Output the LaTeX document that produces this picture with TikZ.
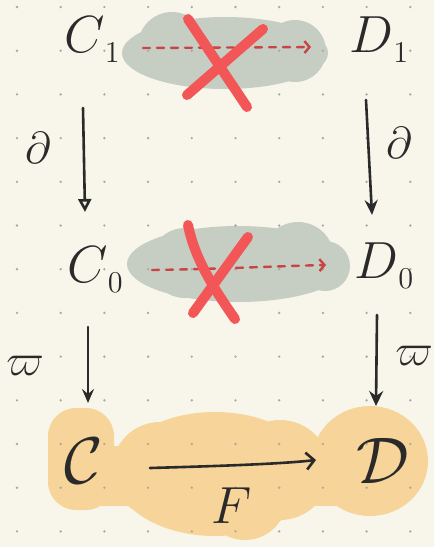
\documentclass[tikz,border=0pt]{standalone}
\usepackage{amsmath,amssymb}
\usetikzlibrary{arrows.meta}
\definecolor{bg}{HTML}{F8F6EA}
\definecolor{ink}{HTML}{2A2A2A}
\definecolor{cloudgray}{HTML}{C6CDC2}
\definecolor{cloudorange}{HTML}{F7D59A}
\definecolor{dashred}{HTML}{C94545}
\definecolor{crossred}{HTML}{F25656}
\definecolor{dotgray}{HTML}{A9A9A1}
\newcommand{\lowsub}[1]{\raisebox{-5pt}{\Large$#1$}}
\tikzset{
  lbl/.style={font=\Huge, text=ink, inner sep=0pt, scale=2.1},
  biglbl/.style={font=\Huge, text=ink, inner sep=0pt, scale=2.65},
  smalllbl/.style={font=\Huge, text=ink, inner sep=0pt, scale=1.8},
  mapline/.style={draw=ink, line width=2.6pt, line cap=round},
  nullmap/.style={draw=dashred, line width=2.4pt, dash pattern=on 7pt off 7pt, line cap=round},
  cross/.style={draw=crossred, line width=10pt, line cap=round},
}
\begin{document}
\begin{tikzpicture}[x=1pt,y=-1pt]
\fill[bg] (0,0) rectangle (434,547);
\useasboundingbox (0,0) rectangle (434,547);
\clip (0,0) rectangle (434,547);
% clouds
\fill[cloudgray] (225,53) ellipse [x radius=103, y radius=36]
  (172,46) circle (34) (240,52) circle (32) (295,51) circle (31);
\fill[cloudgray] (238,264) ellipse [x radius=111, y radius=38]
  (185,263) circle (35) (235,262) circle (34) (298,258) circle (36) (325,266) circle (25);
\fill[cloudorange] [rounded corners=28pt] (48,408) rectangle (114,510);
\fill[cloudorange] (100,446) rectangle (340,506);
\fill[cloudorange] (215,474) ellipse [x radius=100, y radius=62]
  (245,498) circle (42) (160,470) circle (48) (280,470) circle (50)
  (370,461) ellipse [x radius=58, y radius=55];
% dot grid
\foreach \i in {0,...,9} \foreach \j in {0,...,12}
  \fill[dotgray] (17+43.7*\i, 7+43.7*\j) circle (1.3);
% labels
\node[lbl, anchor=base west] (C1) at (64,52) {$C$\lowsub{1}};
\node[lbl, anchor=base west] (D1) at (349,52) {$D$\lowsub{1}};
\node[lbl, anchor=base west] (C0) at (67,282) {$C$\lowsub{0}};
\node[lbl, anchor=base west] (D0) at (354,278) {$D$\lowsub{0}};
\node[biglbl, anchor=base west] (C) at (64,483) {$\mathcal{C}$};
\node[biglbl, anchor=base west] (D) at (356,483) {$\mathcal{D}$};
\node[lbl, anchor=base] (F) at (232,523) {$F$};
\node[smalllbl] (d1) at (38,148) {$\partial$};
\node[smalllbl] (d2) at (399,143) {$\partial$};
\node[smalllbl] (p1) at (25,366) {$\varpi$};
\node[smalllbl] (p2) at (414,356) {$\varpi$};
% arrow endpoints
\coordinate (a1s) at (83,108); \coordinate (a1e) at (85,212);
\coordinate (a2s) at (366,100); \coordinate (a2e) at (372,215);
\coordinate (b1s) at (88,327); \coordinate (b1e) at (88,403);
\coordinate (b2s) at (377,315); \coordinate (b2e) at (376,406);
\coordinate (fs) at (150,468); \coordinate (fe) at (316,460);
\coordinate (t1s) at (143,48); \coordinate (t1e) at (311,47);
\coordinate (t2s) at (152,270); \coordinate (t2e) at (326,265);
% vertical maps
\draw[mapline, -{Triangle[open, length=13pt, width=13pt, line width=2.6pt]}] (a1s) -- (a1e);
\draw[mapline, -{Stealth[length=15pt, width=13pt, inset=5pt]}] (a2s) -- (a2e);
\draw[mapline, -{Stealth[length=14pt, width=12pt, inset=5pt]}] (b1s) -- (b1e);
\draw[mapline, -{Stealth[length=15pt, width=14pt, inset=5pt]}] (b2s) -- (b2e);
% functor F
\draw[mapline, -{Straight Barb[length=8pt, width=17pt, line width=2.6pt]}] (fs) .. controls (220,466) and (280,464) .. (fe);
% crossed-out maps
\draw[nullmap, -{Straight Barb[length=5pt, width=12pt, line width=2.4pt]}] (t1s) -- (t1e);
\draw[nullmap, -{Straight Barb[length=5pt, width=12pt, line width=2.4pt]}] (t2s) .. controls (220,269) and (280,266) .. (t2e);
% crosses
\draw[cross] (188,19) -- (247,107);
\draw[cross] (263,29) -- (187,95);
\draw[cross] (188,225) .. controls (195,260) and (215,290) .. (235,319);
\draw[cross] (248,237) -- (193,313);
\end{tikzpicture}
\end{document}
